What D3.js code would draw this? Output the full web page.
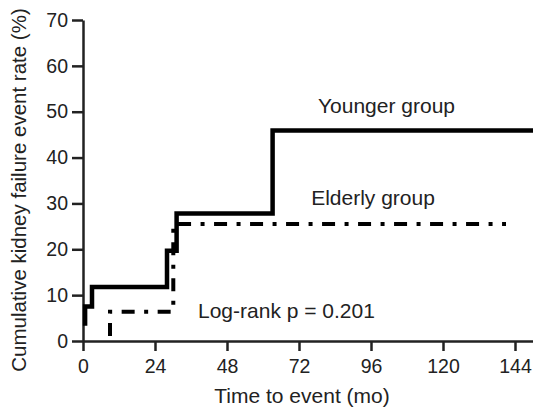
<!DOCTYPE html>
<html>
<head>
<meta charset="utf-8">
<script src="https://cdn.jsdelivr.net/npm/d3@7"></script>
<style>
  body { margin: 0; background: #fff; }
  svg text { font-family: "Liberation Sans", Arial, sans-serif; fill: #222; }
</style>
</head>
<body>
<div id="chart"></div>
<script>
// step points [time (mo), cumulative rate (%)]
const younger = [[0.7, 3.3], [0.7, 7.5], [3, 11.8], [28, 19.7], [31.2, 27.8], [63.2, 45.9], [150, 45.9]];
const elderly = [[9, 0], [9, 6.4], [30.1, 25.5], [141, 25.5]];
const xTicks = [0, 24, 48, 72, 96, 120, 144];
const yTicks = [0, 10, 20, 30, 40, 50, 60, 70];

const W = 533, H = 408;
const svg = d3.select("#chart").append("svg").attr("width", W).attr("height", H);

const x = d3.scaleLinear().domain([0, 150]).range([83, 533]);
const y = d3.scaleLinear().domain([0, 70]).range([341, 20]);

// axes
const xAxis = svg.append("g")
  .attr("transform", "translate(0," + y(0) + ")")
  .call(d3.axisBottom(x).tickValues(xTicks).tickSize(10).tickPadding(8).tickSizeOuter(0));
const yAxis = svg.append("g")
  .attr("transform", "translate(" + x(0) + ",0)")
  .call(d3.axisLeft(y).tickValues(yTicks).tickSize(11).tickPadding(4).tickSizeOuter(0));

[xAxis, yAxis].forEach(g => {
  g.select(".domain").attr("stroke", "#222").attr("stroke-width", 2.5);
  g.selectAll(".tick line").attr("stroke", "#222").attr("stroke-width", 2.5);
  g.selectAll(".tick text").style("font-size", "19.5px").attr("fill", "#222");
});

// curves
const line = d3.line()
  .x(d => x(d[0]))
  .y(d => y(d[1]))
  .curve(d3.curveStepAfter);

svg.append("path")
  .datum(elderly)
  .attr("d", line)
  .attr("fill", "none")
  .attr("stroke", "#000")
  .attr("stroke-width", 4)
  .attr("stroke-dasharray", "13 9.5 4 9.5")
  .attr("stroke-dashoffset", 31);

svg.append("path")
  .datum(younger)
  .attr("d", line)
  .attr("fill", "none")
  .attr("stroke", "#000")
  .attr("stroke-width", 4.5)
  .attr("stroke-linejoin", "miter");

// labels
svg.append("text").attr("x", 386.5).attr("y", 113).attr("text-anchor", "middle")
  .style("font-size", "21px").text("Younger group");
svg.append("text").attr("x", 373).attr("y", 205).attr("text-anchor", "middle")
  .style("font-size", "21px").text("Elderly group");
svg.append("text").attr("x", 198).attr("y", 318)
  .style("font-size", "21px").text("Log-rank p = 0.201");

// axis titles
svg.append("text").attr("x", 302).attr("y", 403).attr("text-anchor", "middle")
  .style("font-size", "21px").text("Time to event (mo)");
svg.append("text").attr("transform", "translate(26,190) rotate(-90)").attr("text-anchor", "middle")
  .style("font-size", "20.5px").text("Cumulative kidney failure event rate (%)");
</script>
</body>
</html>
